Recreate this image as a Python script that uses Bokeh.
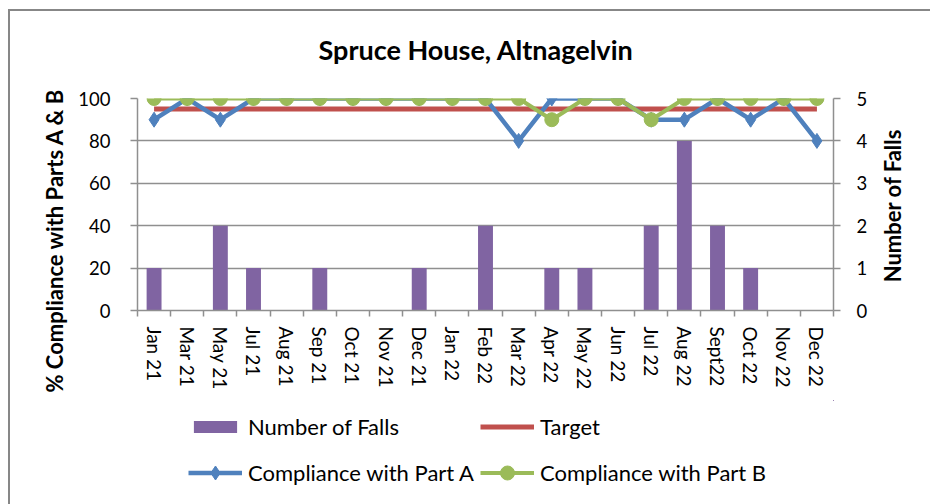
import math
from bokeh.plotting import figure
from bokeh.layouts import column, row
from bokeh.models import (Range1d, LinearAxis, FixedTicker, Legend, LegendItem,
                          Title, Label, ColumnDataSource)
from bokeh.embed import file_html
from bokeh.resources import INLINE

# ---- data ----
months = ["Jan 21", "Mar 21", "May 21", "Jul 21", "Aug 21", "Sep 21", "Oct 21",
          "Nov 21", "Dec 21", "Jan 22", "Feb 22", "Mar 22", "Apr 22", "May 22",
          "Jun 22", "Jul 22", "Aug 22", "Sept22", "Oct 22", "Nov 22", "Dec 22"]
falls = [1, 0, 2, 1, 0, 1, 0, 0, 1, 0, 2, 0, 1, 1, 0, 2, 4, 2, 1, 0, 0]
part_a = [90, 100, 90, 100, 100, 100, 100, 100, 100, 100, 100, 80, 100, 100,
          100, 90, 90, 100, 90, 100, 80]
part_b = [100, 100, 100, 100, 100, 100, 100, 100, 100, 100, 100, 100, 90, 100,
          100, 90, 100, 100, 100, 100, 100]
target = [95, 95, 95, 95, 95, 95, 95, 95, 95, 95, 95, 95, 95, 95, 95, 95, 95,
          95, 95, 95, 95]
left_ticks = [0, 20, 40, 60, 80, 100]
right_ticks = [0, 1, 2, 3, 4, 5]

title_text = "Spruce House, Altnagelvin"
left_title = "% Compliance with Parts A & B"
right_title = "Number of Falls"
legend_labels = ["Number of Falls", "Target", "Compliance with Part A",
                 "Compliance with Part B"]

# ---- styles ----
FONT = "Lato"
PURPLE = "#8064A2"
RED = "#C0504D"
BLUE = "#4F81BD"
GREEN = "#9BBB59"
GRID = "#8f8f8f"
BORDER = "#878787"

xs = list(range(len(months)))
src = ColumnDataSource(dict(x=xs, falls=falls, a=part_a, b=part_b, t=target))

p = figure(width=870, height=400, output_backend="svg", toolbar_location=None,
           x_range=Range1d(-0.5, len(months) - 0.5), y_range=Range1d(0, 100),
           min_border_left=137, min_border_right=37, min_border_top=98,
           min_border_bottom=90, border_fill_color=None,
           background_fill_color=None, outline_line_color=None)
p.extra_y_ranges = {"falls": Range1d(0, 5)}

bar_style = dict(fill_color=PURPLE, line_color=None)
t_style = dict(line_color=RED, line_width=5)
a_line = dict(line_color=BLUE, line_width=4.5)
a_mark = dict(marker="diamond", size=15, fill_color=BLUE, line_color=BLUE)
b_line = dict(line_color=GREEN, line_width=4)
b_mark = dict(marker="circle", size=14, fill_color=GREEN, line_color=GREEN)

p.vbar(x="x", top="falls", bottom=0, width=0.45, source=src,
       y_range_name="falls", **bar_style)
p.line(x="x", y="t", source=src, **t_style)
p.line(x="x", y="a", source=src, **a_line)
p.scatter(x="x", y="a", source=src, **a_mark)
p.line(x="x", y="b", source=src, **b_line)
p.scatter(x="x", y="b", source=src, **b_mark)

# main title
p.title.text = title_text
p.title.align = "left"
p.title.offset = 181
p.title.vertical_align = "top"
p.title.standoff = 62
p.title.text_font = FONT
p.title.text_font_style = "bold"
p.title.text_font_size = "27px"
p.title.text_color = "black"

# x axis
xa = p.xaxis[0]
xa.ticker = FixedTicker(ticks=xs, minor_ticks=[i - 0.5 for i in range(len(months) + 1)])
xa.major_label_overrides = {i: m for i, m in enumerate(months)}
xa.major_label_orientation = "vertical"
xa.major_tick_line_color = None
xa.major_tick_out = 0
xa.major_tick_in = 0
xa.minor_tick_out = 6
xa.minor_tick_in = 0
xa.minor_tick_line_color = GRID
xa.minor_tick_line_width = 1.5
xa.major_label_standoff = 10
xa.major_label_text_font = FONT
xa.major_label_text_font_size = "19px"
xa.major_label_text_color = "black"
xa.axis_line_color = GRID
xa.axis_line_width = 1.5

# left axis
ya = p.yaxis[0]
ya.ticker = FixedTicker(ticks=left_ticks)
ya.major_tick_out = 7
ya.major_tick_in = 0
ya.minor_tick_line_color = None
ya.major_tick_line_color = GRID
ya.major_tick_line_width = 1.5
ya.axis_line_color = GRID
ya.axis_line_width = 1.5
ya.major_label_standoff = 20
ya.major_label_text_font = FONT
ya.major_label_text_font_size = "18.5px"
ya.major_label_text_color = "black"

# right axis
ra = LinearAxis(y_range_name="falls", ticker=FixedTicker(ticks=right_ticks))
ra.major_tick_out = 7
ra.major_tick_in = 0
ra.minor_tick_line_color = None
ra.major_tick_line_color = GRID
ra.major_tick_line_width = 1.5
ra.axis_line_color = GRID
ra.axis_line_width = 1.5
ra.major_label_standoff = 16
ra.major_label_text_font = FONT
ra.major_label_text_font_size = "18.5px"
ra.major_label_text_color = "black"
p.add_layout(ra, "right")

p.xgrid.grid_line_color = None
p.ygrid.grid_line_color = GRID
p.ygrid.grid_line_width = 1.5
p.ygrid.ticker = FixedTicker(ticks=left_ticks)

# left axis title (side title so it can sit lower than the frame centre)
lt = Title(text=left_title, align="left", offset=-82, standoff=16,
           text_font=FONT, text_font_style="bold", text_font_size="22px",
           text_color="black")
p.add_layout(lt, "left")

# ---- narrow strip on the right for the secondary axis title ----
r = figure(width=60, height=400, output_backend="svg", toolbar_location=None,
           x_range=Range1d(0, 1), y_range=Range1d(0, 1),
           x_axis_type=None, y_axis_type=None,
           min_border_left=0, min_border_right=0, min_border_top=98,
           min_border_bottom=90, border_fill_color=None,
           background_fill_color=None, outline_line_color=None)
r.add_layout(Label(x=22, y=105, x_units="screen", y_units="screen",
                   text=right_title, angle=math.pi / 2, text_font=FONT,
                   text_font_style="bold", text_font_size="22px",
                   text_align="center", text_baseline="middle",
                   text_color="black"))

# ---- legend strip below the chart ----
q = figure(width=930, height=104, output_backend="svg", toolbar_location=None,
           x_range=Range1d(-3, -2), y_range=Range1d(-3, -2),
           x_axis_type=None, y_axis_type=None,
           min_border_left=137, min_border_right=97, min_border_top=0,
           min_border_bottom=0, border_fill_color=None,
           background_fill_color=None, outline_line_color=None)
# legend-only renderers: same data, drawn outside this strip's visible ranges
r_bar = q.vbar(x="x", top="falls", bottom=0, width=0.45, source=src, **bar_style)
r_t = q.line(x="x", y="t", source=src, **t_style)
r_al = q.line(x="x", y="a", source=src, **a_line)
r_am = q.scatter(x="x", y="a", source=src, **a_mark)
r_bl = q.line(x="x", y="b", source=src, **b_line)
r_bm = q.scatter(x="x", y="b", source=src, **b_mark)


def make_legend(items, loc, gh=15):
    return Legend(items=items, location=loc, orientation="horizontal",
                  padding=0, margin=0, spacing=5, border_line_color=None,
                  background_fill_color=None, background_fill_alpha=0,
                  glyph_width=54, glyph_height=gh, label_standoff=6,
                  label_width=227, label_height=15,
                  label_text_font=FONT, label_text_font_size="22px",
                  label_text_color="black")


lg1 = make_legend([LegendItem(label=legend_labels[0], renderers=[r_bar]),
                   LegendItem(label=legend_labels[1], renderers=[r_t])], (51, 64))
lg2 = make_legend([LegendItem(label=legend_labels[2], renderers=[r_al, r_am])],
                  (51, 14), gh=35)
lg3 = make_legend([LegendItem(label=legend_labels[3], renderers=[r_bl, r_bm])],
                  (343, 14), gh=35)
q.add_layout(lg1)
q.add_layout(lg2)
q.add_layout(lg3)

layout = column(row(p, r, spacing=0), q, spacing=0,
                styles={"background-image": f"linear-gradient({BORDER},{BORDER}), linear-gradient({BORDER},{BORDER})",
                        "background-size": "2px 100%, 100% 2px",
                        "background-position": "8px 9px, 8px 9px",
                        "background-repeat": "no-repeat"})

open("out.html", "w").write(file_html(layout, INLINE))
